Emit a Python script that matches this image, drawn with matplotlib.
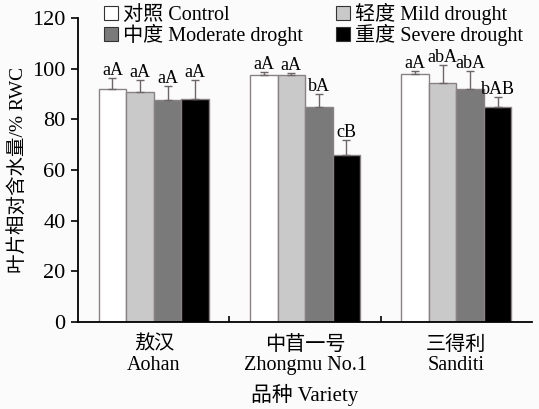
import numpy as np
import matplotlib.pyplot as plt
from matplotlib.patches import Patch

plt.rcParams['font.family'] = ['Liberation Serif', 'Noto Sans CJK SC']

varieties = ['敖汉\nAohan', '中苜一号\nZhongmu No.1', '三得利\nSanditi']
treatments = ['对照 Control', '轻度 Mild drought', '中度 Moderate droght', '重度 Severe drought']
colors = ['#ffffff', '#c9c9c9', '#7a7a7a', '#000000']

# RWC means and standard errors, one list per treatment (Aohan, Zhongmu No.1, Sanditi)
control = [92.0, 97.5, 97.9]
mild = [90.8, 97.5, 94.2]
moderate = [87.7, 84.7, 92.0]
severe = [88.0, 65.9, 85.0]
control_err = [4.3, 1.3, 1.3]
mild_err = [4.6, 0.7, 7.3]
moderate_err = [5.3, 5.2, 7.2]
severe_err = [7.6, 5.9, 3.9]
letters = [['aA', 'aA', 'aA'], ['aA', 'aA', 'abA'], ['aA', 'bA', 'abA'], ['aA', 'cB', 'bAB']]

means = [control, mild, moderate, severe]
errs = [control_err, mild_err, moderate_err, severe_err]

fig = plt.figure(figsize=(5.39, 4.09), dpi=100, facecolor='#fbfbfb')
ax = fig.add_axes([0.145, 0.213, 0.842, 0.743])
ax.set_facecolor('#fbfbfb')

x = np.arange(len(varieties))
w = 0.182
for i in range(4):
    pos = x + (i - 1.5) * w
    ax.bar(pos, means[i], w, color=colors[i], edgecolor='#8a8282', linewidth=1.0,
           yerr=[np.zeros(3), errs[i]], error_kw=dict(ecolor='#6e6666', elinewidth=1.0, capsize=3, capthick=1.0),
           zorder=2)
    for j in range(3):
        ax.text(pos[j], means[i][j] + errs[i][j] - 0.4, letters[i][j], ha='center', va='bottom', fontsize=13)

ax.set_ylim(0, 120)
ax.set_xlim(-0.5, 2.5)
ax.set_yticks(range(0, 121, 20))
ax.tick_params(axis='y', direction='out', length=5, width=1.2, labelsize=16, pad=4)
ax.set_xticks(x)
ax.set_xticklabels(varieties, fontsize=14.5, linespacing=1.1)
ax.tick_params(axis='x', length=0, pad=10)
ax.set_xticks([0.5, 1.5], minor=True)
ax.tick_params(axis='x', which='minor', direction='in', length=4, width=1.2)
for s in ['top', 'right']:
    ax.spines[s].set_visible(False)
for s in ['left', 'bottom']:
    ax.spines[s].set_linewidth(1.3)

ax.set_ylabel('叶片相对含水量/% RWC', fontsize=14, labelpad=4)
ax.set_xlabel('品种 Variety', fontsize=15, labelpad=6)

handles = [Patch(facecolor=colors[i], edgecolor='#333333', linewidth=0.8) for i in range(4)]
order = [0, 2, 1, 3]
ax.legend([handles[i] for i in order], [treatments[i] for i in order], ncol=2, loc='upper left',
          bbox_to_anchor=(0.04, 1.075), frameon=False, fontsize=14.5, handlelength=0.7, handleheight=0.7,
          handletextpad=0.25, columnspacing=1.6, labelspacing=-0.05, borderaxespad=0)

fig.savefig('out.png', dpi=100, facecolor=fig.get_facecolor())
